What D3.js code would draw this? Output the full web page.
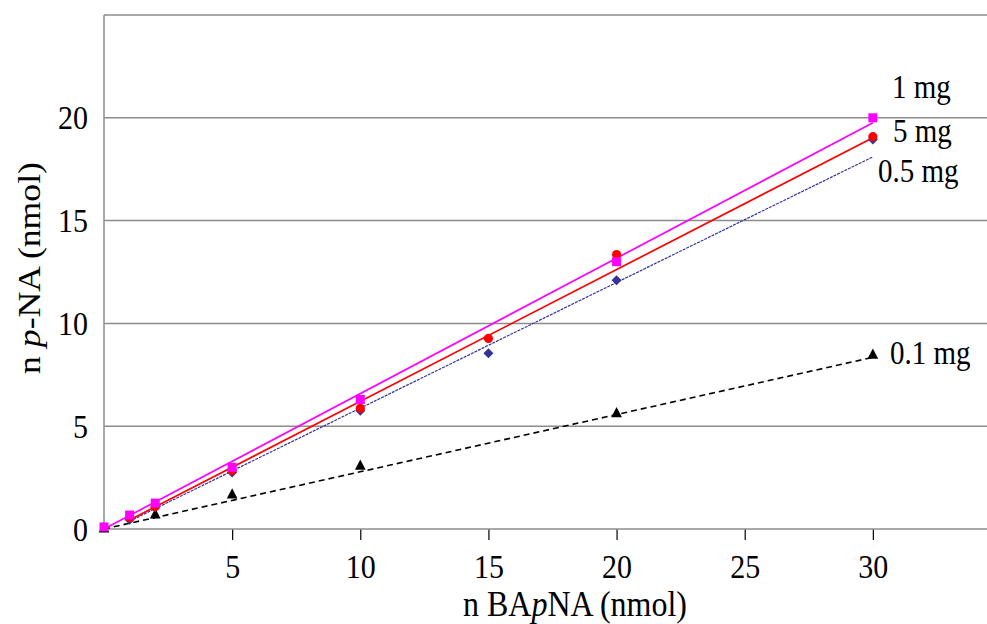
<!DOCTYPE html>
<html>
<head>
<meta charset="utf-8">
<script src="https://cdn.jsdelivr.net/npm/d3@7"></script>
<style>
  html, body { margin: 0; padding: 0; background: #fff; }
  svg text { font-family: "Liberation Serif", "Times New Roman", serif; fill: #000; }
</style>
</head>
<body>
<svg id="chart" width="987" height="624"></svg>
<script>
// ---- data ----
const seriesNames = ["1 mg", "5 mg", "0.5 mg", "0.1 mg"];
const x1mg = [0, 1, 2, 5, 10, 20, 30];
const y1mg = [0.1, 0.68, 1.26, 3.0, 6.3, 13.0, 20.0];
const x5mg = [1, 2, 5, 10, 15, 20, 30];
const y5mg = [0.55, 1.1, 2.85, 5.87, 9.27, 13.35, 19.08];
const x05mg = [1, 2, 5, 10, 15, 20, 30];
const y05mg = [0.45, 1.05, 2.75, 5.75, 8.55, 12.1, 18.95];
const x01mg = [0, 2, 5, 10, 20, 30];
const y01mg = [0.0, 0.68, 1.65, 3.05, 5.6, 8.45];
// trend lines: [xStart, yStart, xEnd, yEnd]
const trend1mg = [0, 0.0, 30, 19.76];
const trend5mg = [1, 0.44, 30, 19.03];
const trend05mg = [1, 0.38, 30, 18.1];
const trend01mg = [0, 0.0, 30, 8.35];
const xTicks = [5, 10, 15, 20, 25, 30];
const yTicks = [0, 5, 10, 15, 20];
const yGrid = [5, 10, 15, 20, 25];

const STRETCH = 1.15;
function stretchY(sel) {
  sel.each(function () {
    const t = d3.select(this);
    const px = +t.attr("x") || 0, py = +t.attr("y") || 0;
    t.attr("transform", `translate(${px},${py}) scale(1,${STRETCH}) translate(${-px},${-py})`);
  });
}

const svg = d3.select("#chart");
const x = d3.scaleLinear().domain([0, 35]).range([104, 1001]);
const y = d3.scaleLinear().domain([0, 25]).range([529, 15]);

// grid
svg.append("g").selectAll("line").data(yGrid).join("line")
  .attr("x1", x(0)).attr("x2", 987)
  .attr("y1", d => y(d)).attr("y2", d => y(d))
  .attr("stroke", "#8c8c8c").attr("stroke-width", 1.5);

// x axis
const xAxis = d3.axisBottom(x).tickValues(xTicks).tickSize(11).tickPadding(14);
const gx = svg.append("g").attr("transform", `translate(0,${y(0)})`).call(xAxis);
gx.select(".domain").remove();
gx.selectAll(".tick line").attr("stroke", "#000").attr("stroke-width", 1.2);
gx.selectAll(".tick text").attr("font-size", 30).call(stretchY);
svg.append("line").attr("x1", x(0)).attr("x2", 987).attr("y1", y(0)).attr("y2", y(0))
  .attr("stroke", "#8c8c8c").attr("stroke-width", 1.5);

// y axis
const yAxis = d3.axisLeft(y).tickValues(yTicks).tickSize(0).tickPadding(16);
const gy = svg.append("g").attr("transform", `translate(${x(0)},0)`).call(yAxis);
gy.select(".domain").remove();
gy.selectAll(".tick text").attr("font-size", 30).call(stretchY);
svg.append("line").attr("x1", x(0)).attr("x2", x(0)).attr("y1", y(25)).attr("y2", y(0))
  .attr("stroke", "#8c8c8c").attr("stroke-width", 1.5);

// trend lines
const trends = [
  {t: trend01mg, color: "#000", w: 1.6, dash: "6,4"},
  {t: trend05mg, color: "#333399", w: 1.2, dash: "3,1"},
  {t: trend5mg, color: "#ff0000", w: 1.7, dash: null},
  {t: trend1mg, color: "#ff00ff", w: 1.7, dash: null}
];
trends.forEach(s => {
  svg.append("line")
    .attr("x1", x(s.t[0])).attr("y1", y(s.t[1]))
    .attr("x2", x(s.t[2])).attr("y2", y(s.t[3]))
    .attr("stroke", s.color).attr("stroke-width", s.w)
    .attr("stroke-dasharray", s.dash);
});

// markers
const pts = (xs, ys) => xs.map((v, i) => [v, ys[i]]);
svg.append("g").selectAll("path").data(pts(x01mg, y01mg)).join("path")
  .attr("d", d3.symbol(d3.symbolTriangle, 50))
  .attr("transform", d => `translate(${x(d[0])},${y(d[1])}) scale(1,1.1)`)
  .attr("fill", "#000");
svg.append("g").selectAll("path").data(pts(x05mg, y05mg)).join("path")
  .attr("d", d3.symbol(d3.symbolSquare, 50))
  .attr("transform", d => `translate(${x(d[0])},${y(d[1])}) rotate(45)`)
  .attr("fill", "#333399");
svg.append("g").selectAll("circle").data(pts(x5mg, y5mg)).join("circle")
  .attr("cx", d => x(d[0])).attr("cy", d => y(d[1])).attr("r", 4.6)
  .attr("fill", "#ff0000");
svg.append("g").selectAll("rect").data(pts(x1mg, y1mg)).join("rect")
  .attr("x", d => x(d[0]) - 4.5).attr("y", d => y(d[1]) - 4.5)
  .attr("width", 9).attr("height", 9)
  .attr("fill", "#ff00ff");

// series labels
const labelPos = [[892, 98], [893, 142], [878, 182], [890, 364]];
svg.append("g").selectAll("text").data(seriesNames).join("text")
  .attr("x", (d, i) => labelPos[i][0]).attr("y", (d, i) => labelPos[i][1])
  .attr("font-size", 29).text(d => d).call(stretchY);

// axis titles
const xt = svg.append("text").attr("x", 575).attr("y", 616).attr("text-anchor", "middle")
  .attr("font-size", 32);
xt.append("tspan").text("n BA");
xt.append("tspan").attr("font-style", "italic").text("p");
xt.append("tspan").text("NA (nmol)");
stretchY(xt);

const yt = svg.append("text")
  .attr("transform", `translate(40,268) rotate(-90) scale(${STRETCH},1)`)
  .attr("text-anchor", "middle").attr("font-size", 31);
yt.append("tspan").text("n ");
yt.append("tspan").attr("font-style", "italic").text("p");
yt.append("tspan").text("-NA (nmol)");
</script>
</body>
</html>
